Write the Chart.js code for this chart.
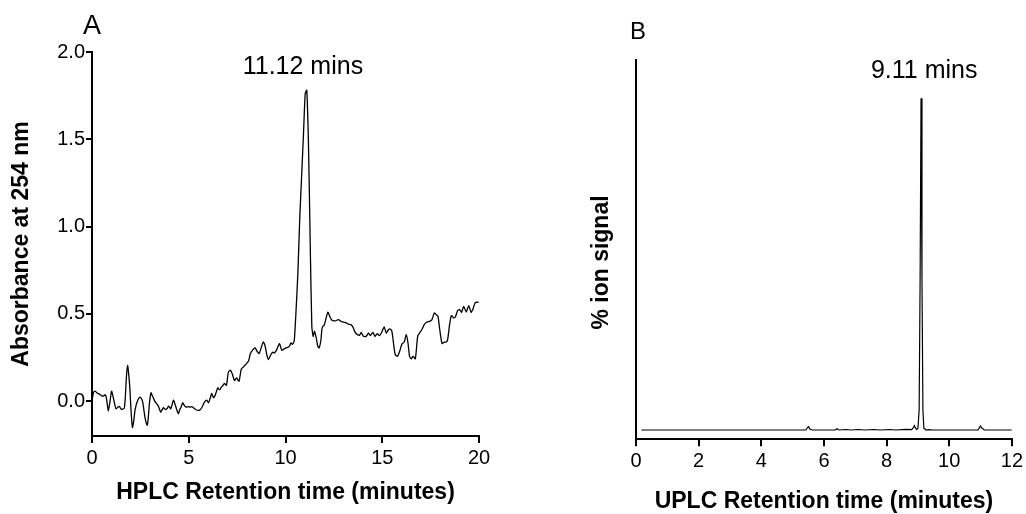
<!DOCTYPE html>
<html>
<head>
<meta charset="utf-8">
<script src="https://cdn.jsdelivr.net/npm/chart.js@4.4.1/dist/chart.umd.min.js"></script>
<style>
    html, body { margin: 0; padding: 0; background: #fff; }
    #wrap { position: relative; width: 1026px; height: 514px; }
    #chartA { position: absolute; left: 0; top: 0; }
    #chartB { position: absolute; left: 513px; top: 0; }
</style>
</head>
<body>
<div id="wrap">
    <canvas id="chartA" width="513" height="514"></canvas>
    <canvas id="chartB" width="513" height="514"></canvas>
</div>
<script>
// HPLC trace, panel A: [minutes, absorbance at 254 nm]
const hplcTrace = [
    [0.00, 0.000], [0.08, 0.050], [0.16, 0.057], [0.28, 0.045], [0.41, 0.038], [0.50, 0.030],
    [0.59, 0.029], [0.66, 0.035], [0.72, 0.030], [0.78, -0.010], [0.84, -0.057], [0.92, -0.010],
    [1.01, 0.057], [1.08, 0.030], [1.14, 0.000], [1.24, -0.044], [1.33, -0.035], [1.41, -0.030],
    [1.47, -0.040], [1.53, -0.048], [1.60, -0.045], [1.67, -0.040], [1.72, 0.020], [1.78, 0.140],
    [1.84, 0.204], [1.90, 0.150], [1.96, 0.067], [2.02, -0.060], [2.09, -0.152], [2.16, -0.110],
    [2.23, -0.048], [2.35, 0.000], [2.48, 0.023], [2.55, 0.015], [2.62, -0.005], [2.68, -0.050],
    [2.74, -0.095], [2.80, -0.125], [2.86, -0.139], [2.92, -0.080], [2.97, -0.010], [3.05, 0.048],
    [3.10, 0.035], [3.17, 0.019], [3.24, 0.000], [3.31, -0.010], [3.43, -0.029], [3.55, -0.063],
    [3.62, -0.050], [3.69, -0.038], [3.76, -0.045], [3.83, -0.048], [3.90, -0.040], [3.95, -0.029],
    [4.01, -0.035], [4.07, -0.044], [4.14, -0.020], [4.21, 0.006], [4.28, -0.015], [4.35, -0.038],
    [4.41, -0.060], [4.47, -0.072], [4.53, -0.050], [4.59, -0.038], [4.69, -0.010], [4.77, -0.025],
    [4.85, -0.034], [4.98, -0.032], [5.07, -0.035], [5.16, -0.032], [5.28, -0.042], [5.41, -0.051],
    [5.53, -0.053], [5.60, -0.048], [5.67, -0.038], [5.75, -0.020], [5.81, -0.006], [5.93, 0.006],
    [6.02, -0.010], [6.10, 0.013], [6.19, 0.044], [6.28, 0.019], [6.36, 0.032], [6.43, 0.055],
    [6.50, 0.076], [6.56, 0.068], [6.62, 0.067], [6.68, 0.080], [6.74, 0.086], [6.84, 0.101],
    [6.90, 0.095], [6.95, 0.090], [7.00, 0.130], [7.05, 0.166], [7.16, 0.177], [7.26, 0.152],
    [7.36, 0.118], [7.42, 0.126], [7.48, 0.133], [7.54, 0.120], [7.60, 0.114], [7.66, 0.150],
    [7.71, 0.181], [7.77, 0.190], [7.83, 0.196], [7.90, 0.205], [7.95, 0.210], [8.02, 0.220],
    [8.09, 0.229], [8.17, 0.267], [8.23, 0.282], [8.29, 0.290], [8.36, 0.300], [8.43, 0.305],
    [8.53, 0.286], [8.64, 0.272], [8.74, 0.305], [8.80, 0.325], [8.86, 0.339], [8.95, 0.314],
    [9.03, 0.267], [9.12, 0.238], [9.22, 0.261], [9.33, 0.280], [9.43, 0.276], [9.55, 0.295],
    [9.62, 0.315], [9.69, 0.330], [9.75, 0.310], [9.81, 0.291], [9.93, 0.299], [10.03, 0.305],
    [10.16, 0.310], [10.22, 0.318], [10.29, 0.333], [10.36, 0.325], [10.45, 0.343], [10.53, 0.486],
    [10.64, 0.733], [10.74, 1.057], [10.84, 1.305], [10.93, 1.533], [11.02, 1.762], [11.10, 1.781],
    [11.19, 1.457], [11.28, 0.886], [11.36, 0.429], [11.43, 0.371], [11.50, 0.400], [11.59, 0.362],
    [11.67, 0.314], [11.74, 0.305], [11.83, 0.350], [11.88, 0.410], [11.93, 0.429], [12.00, 0.435],
    [12.10, 0.476], [12.19, 0.510], [12.28, 0.487], [12.40, 0.463], [12.57, 0.460], [12.74, 0.467],
    [12.86, 0.457], [13.00, 0.453], [13.14, 0.448], [13.26, 0.440], [13.38, 0.438], [13.48, 0.425],
    [13.60, 0.394], [13.72, 0.381], [13.83, 0.378], [13.91, 0.394], [14.03, 0.371], [14.17, 0.371],
    [14.29, 0.390], [14.38, 0.375], [14.52, 0.394], [14.62, 0.371], [14.74, 0.386], [14.86, 0.375],
    [14.98, 0.396], [15.10, 0.425], [15.21, 0.390], [15.33, 0.410], [15.41, 0.413], [15.50, 0.400],
    [15.59, 0.324], [15.67, 0.267], [15.79, 0.257], [15.90, 0.286], [16.02, 0.328], [16.14, 0.338],
    [16.24, 0.381], [16.33, 0.333], [16.41, 0.257], [16.50, 0.242], [16.59, 0.257], [16.71, 0.242],
    [16.83, 0.371], [16.93, 0.390], [17.05, 0.410], [17.17, 0.438], [17.31, 0.453], [17.45, 0.457],
    [17.57, 0.467], [17.69, 0.505], [17.79, 0.495], [17.88, 0.486], [17.97, 0.410], [18.09, 0.330],
    [18.21, 0.338], [18.31, 0.338], [18.38, 0.352], [18.48, 0.438], [18.57, 0.490], [18.69, 0.476],
    [18.78, 0.482], [18.90, 0.520], [19.00, 0.524], [19.10, 0.509], [19.21, 0.543], [19.34, 0.510],
    [19.47, 0.547], [19.59, 0.509], [19.69, 0.528], [19.81, 0.566], [19.93, 0.566], [19.98, 0.566]
];

// UPLC trace, panel B: [minutes, % ion signal]
const uplcTrace = [
    [0.17, 0], [5.42, 0], [5.48, 0.8], [5.51, 1.0], [5.55, 0.3], [5.62, 0],
    [6.36, 0], [6.42, 0.4], [6.48, 0], [6.70, 0.15], [6.85, 0], [7.10, 0.15], [7.30, 0],
    [7.60, 0.15], [7.80, 0], [8.10, 0.15], [8.30, 0], [8.60, 0.2], [8.80, 0.1],
    [8.86, 0.8], [8.89, 1.3], [8.92, 0.6], [8.96, 0.2], [9.00, 0.5], [9.04, 6],
    [9.07, 45], [9.10, 100], [9.13, 45], [9.16, 6], [9.19, 0.5], [9.23, 0.3],
    [9.26, 0], [9.35, 0.1], [9.45, 0], [10.92, 0], [10.97, 0.8], [11.00, 1.2],
    [11.04, 0.6], [11.12, 0], [12.00, 0]
];

const xTicksA = [0, 5, 10, 15, 20];
const yTicksA = [0.0, 0.5, 1.0, 1.5, 2.0];
const xTicksB = [0, 2, 4, 6, 8, 10, 12];

const FONT = '"Liberation Sans", Arial, Helvetica, sans-serif';
Chart.defaults.color = '#000';
Chart.defaults.font.family = FONT;

//Etichette dei pannelli e dei picchi
const labelPlugin = {
    id: 'peakLabels',
    afterDraw(chart, args, opts) {
        const ctx = chart.ctx;
        const xs = chart.scales.x;
        const ys = chart.scales.y;
        ctx.save();
        ctx.fillStyle = '#000';
        ctx.textAlign = 'center';
        ctx.textBaseline = 'middle';
        ctx.font = opts.panelSize + 'px ' + FONT;
        ctx.fillText(opts.panel, chart.chartArea.left + opts.panelDx, opts.panelY);
        ctx.font = '25px ' + FONT;
        ctx.fillText(opts.peakText, xs.getPixelForValue(opts.peakX), ys.getPixelForValue(opts.peakY));
        if (opts.yTitle) {
            ctx.translate(opts.yTitleX, opts.yTitleY);
            ctx.rotate(-Math.PI / 2);
            ctx.font = 'bold 23px ' + FONT;
            ctx.fillText(opts.yTitle, 0, 0);
        }
        ctx.restore();
    }
};

const axisGrid = (len) => ({
    drawOnChartArea: false,
    drawTicks: len > 0,
    tickLength: len,
    tickWidth: 2,
    lineWidth: 2,
    color: '#000',
    tickColor: '#000'
});
const axisBorder = { display: true, color: '#000', width: 2 };

new Chart(document.getElementById('chartA'), {
    type: 'line',
    data: {
        datasets: [{
            data: hplcTrace.map(p => ({ x: p[0], y: p[1] })),
            borderColor: '#000',
            borderWidth: 1.3,
            pointRadius: 0,
            tension: 0.2,
            fill: false
        }]
    },
    options: {
        responsive: false,
        animation: false,
        layout: { padding: { left: 0, top: 52, right: 34, bottom: 0 } },
        scales: {
            x: {
                type: 'linear',
                min: 0,
                max: 20,
                afterBuildTicks: s => { s.ticks = xTicksA.map(v => ({ value: v })); },
                afterFit: s => { s.height = 78; },
                ticks: { font: { size: 20 }, padding: 3, maxRotation: 0 },
                grid: axisGrid(7),
                border: axisBorder,
                title: {
                    display: true,
                    text: 'HPLC Retention time (minutes)',
                    font: { size: 23, weight: 'bold', lineHeight: 1 },
                    padding: { top: 0, bottom: 9.5 }
                }
            },
            y: {
                min: -0.2,
                max: 2.0,
                afterBuildTicks: s => { s.ticks = yTicksA.map(v => ({ value: v })); },
                afterFit: s => { s.width = 92; },
                ticks: { font: { size: 20 }, padding: 1, callback: v => v.toFixed(1) },
                grid: axisGrid(6),
                border: axisBorder,
                title: {
                    display: true,
                    text: 'Absorbance at 254 nm',
                    font: { size: 23, weight: 'bold', lineHeight: 1 },
                    padding: { top: 10, bottom: 0 }
                }
            }
        },
        plugins: {
            legend: { display: false },
            tooltip: { enabled: false },
            peakLabels: {
                panel: 'A', panelSize: 27, panelDx: 0, panelY: 27,
                peakText: '11.12 mins', peakX: 10.9, peakY: 1.914
            }
        }
    },
    plugins: [labelPlugin]
});

new Chart(document.getElementById('chartB'), {
    type: 'line',
    data: {
        datasets: [{
            data: uplcTrace.map(p => ({ x: p[0], y: p[1] })),
            borderColor: '#000',
            borderWidth: 1.2,
            pointRadius: 0,
            tension: 0,
            fill: false
        }]
    },
    options: {
        responsive: false,
        animation: false,
        layout: { padding: { left: 0, top: 60, right: 11, bottom: 0 } },
        scales: {
            x: {
                type: 'linear',
                min: 0,
                max: 12,
                afterBuildTicks: s => { s.ticks = xTicksB.map(v => ({ value: v })); },
                afterFit: s => { s.height = 74.7; },
                ticks: { font: { size: 20 }, padding: 3, maxRotation: 0 },
                grid: axisGrid(7),
                border: axisBorder,
                title: {
                    display: true,
                    text: 'UPLC Retention time (minutes)',
                    font: { size: 23, weight: 'bold', lineHeight: 1 },
                    padding: { top: 0, bottom: 1 }
                }
            },
            y: {
                min: -2.8,
                max: 111.5,
                afterBuildTicks: s => { s.ticks = []; },
                afterFit: s => { s.width = 123; },
                ticks: { display: false },
                grid: axisGrid(0),
                border: axisBorder
            }
        },
        plugins: {
            legend: { display: false },
            tooltip: { enabled: false },
            peakLabels: {
                panel: 'B', panelSize: 24, panelDx: 2, panelY: 32,
                peakText: '9.11 mins', peakX: 9.2, peakY: 108.3,
                yTitle: '% ion signal', yTitleX: 88.7, yTitleY: 262.5
            }
        }
    },
    plugins: [labelPlugin]
});
</script>
</body>
</html>
